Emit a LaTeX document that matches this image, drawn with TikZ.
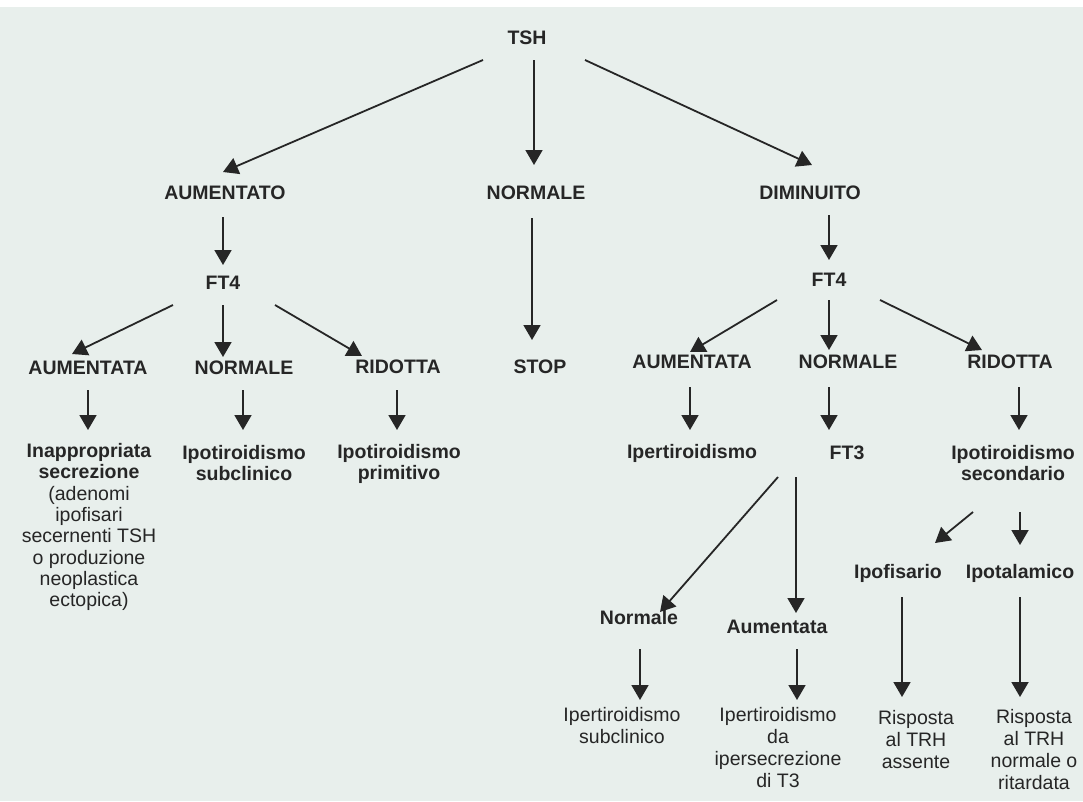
\documentclass[tikz,border=0pt]{standalone}
\usepackage{fontspec}
\setmainfont{Liberation Sans}
\usetikzlibrary{calc,arrows.meta}
\definecolor{bg}{RGB}{232,239,236}
\definecolor{ink}{RGB}{38,38,38}
\begin{document}
\begin{tikzpicture}[x=1pt,y=-1pt,
  lbl/.style={inner sep=0pt,align=center,text=ink,font=\fontsize{19.5}{21}\selectfont\bfseries},
  txt/.style={inner sep=0pt,align=center,text=ink,font=\fontsize{19.5}{22}\selectfont},
  arr/.style={draw=ink,line width=1.8pt,-{Triangle[length=15pt,width=17pt]}}]
\useasboundingbox (0,0) rectangle (1083,801);
\fill[bg] (0,0) rectangle (1083,801);
\fill[white] (0,0) rectangle (1083,7);
% nodes
\node[lbl] (tsh) at (527,38) {TSH};
\node[lbl] (aumo) at (225,193) {AUMENTATO};
\node[lbl] (normt) at (536,193) {NORMALE};
\node[lbl] (dimi) at (810,193) {DIMINUITO};
\node[lbl] (ftl) at (223,283) {FT4};
\node[lbl] (stop) at (540,367) {STOP};
\node[lbl] (ftr) at (829,280) {FT4};
\node[lbl] (auml) at (88,368) {AUMENTATA};
\node[lbl] (norml) at (244,368) {NORMALE};
\node[lbl] (ridl) at (398,367) {RIDOTTA};
\node[lbl] (aumr) at (692,362) {AUMENTATA};
\node[lbl] (normr) at (848,362) {NORMALE};
\node[lbl] (ridr) at (1010,362) {RIDOTTA};
\node[lbl,font=\fontsize{19.5}{21.3}\selectfont] (inap) at (89,527) {{\bfseries Inappropriata}\\{\bfseries secrezione}\\(adenomi\\ipofisari\\secernenti TSH\\o produzione\\neoplastica\\ectopica)};
\node[lbl] (iposub) at (244,463) {Ipotiroidismo\\subclinico};
\node[lbl] (ipoprim) at (399,464) {Ipotiroidismo\\primitivo};
\node[lbl] (iper) at (692,453) {Ipertiroidismo};
\node[lbl] (ft3) at (847,453) {FT3};
\node[lbl] (iposec) at (1013,463) {Ipotiroidismo\\secondario};
\node[lbl] (ipof) at (898,573) {Ipofisario};
\node[lbl] (ipot) at (1020,573) {Ipotalamico};
\node[lbl] (normale) at (639,618) {Normale};
\node[lbl] (aumentata) at (777,627) {Aumentata};
\node[txt] (ipersub) at (622,726) {Ipertiroidismo\\subclinico};
\node[txt] (iperT3) at (778,748) {Ipertiroidismo\\da\\ipersecrezione\\di T3};
\node[txt] (risp1) at (916,740) {Risposta\\al TRH\\assente};
\node[txt] (risp2) at (1034,750) {Risposta\\al TRH\\normale o\\ritardata};
% connectors
\draw[arr] ($(tsh)+(-44,22)$) -- ($(aumo)+(-2,-21)$);
\draw[arr] ($(tsh)+(7,22)$) -- ($(normt)+(-2,-28)$);
\draw[arr] ($(tsh)+(58,22)$) -- ($(dimi)+(2,-28)$);
\draw[arr] ($(aumo)+(-2,24)$) -- ($(ftl)+(0,-18)$);
\draw[arr] ($(normt)+(-4,25)$) -- ($(stop)+(-8,-27)$);
\draw[arr] ($(dimi)+(19,22)$) -- ($(ftr)+(0,-20)$);
\draw[arr] ($(ftl)+(-50,22)$) -- ($(auml)+(-16,-14)$);
\draw[arr] ($(ftl)+(0,22)$) -- ($(norml)+(-21,-11)$);
\draw[arr] ($(ftl)+(52,22)$) -- ($(ridl)+(-36,-11)$);
\draw[arr] ($(auml)+(0,22)$) -- ($(inap)+(-1,-97)$);
\draw[arr] ($(norml)+(-1,22)$) -- ($(iposub)+(-1,-33)$);
\draw[arr] ($(ridl)+(-1,23)$) -- ($(ipoprim)+(-2,-34)$);
\draw[arr] ($(ftr)+(-52,20)$) -- ($(aumr)+(-2,-10)$);
\draw[arr] ($(ftr)+(0,20)$) -- ($(normr)+(-19,-12)$);
\draw[arr] ($(ftr)+(51,20)$) -- ($(ridr)+(-28,-12)$);
\draw[arr] ($(aumr)+(-2,25)$) -- ($(iper)+(-2,-23)$);
\draw[arr] ($(normr)+(-19,25)$) -- ($(ft3)+(-18,-23)$);
\draw[arr] ($(ridr)+(9,25)$) -- ($(iposec)+(6,-33)$);
\draw[arr] ($(ft3)+(-69,24)$) -- ($(normale)+(21,-6)$);
\draw[arr] ($(ft3)+(-51,24)$) -- ($(aumentata)+(19,-14)$);
\draw[arr] ($(iposec)+(-40,49)$) -- ($(ipof)+(37,-30)$);
\draw[arr] ($(iposec)+(7,49)$) -- ($(ipot)+(0,-28)$);
\draw[arr] ($(normale)+(1,31)$) -- ($(ipersub)+(18,-26)$);
\draw[arr] ($(aumentata)+(20,22)$) -- ($(iperT3)+(19,-48)$);
\draw[arr] ($(ipof)+(4,24)$) -- ($(risp1)+(-14,-43)$);
\draw[arr] ($(ipot)+(0,24)$) -- ($(risp2)+(-14,-53)$);
\end{tikzpicture}
\end{document}
